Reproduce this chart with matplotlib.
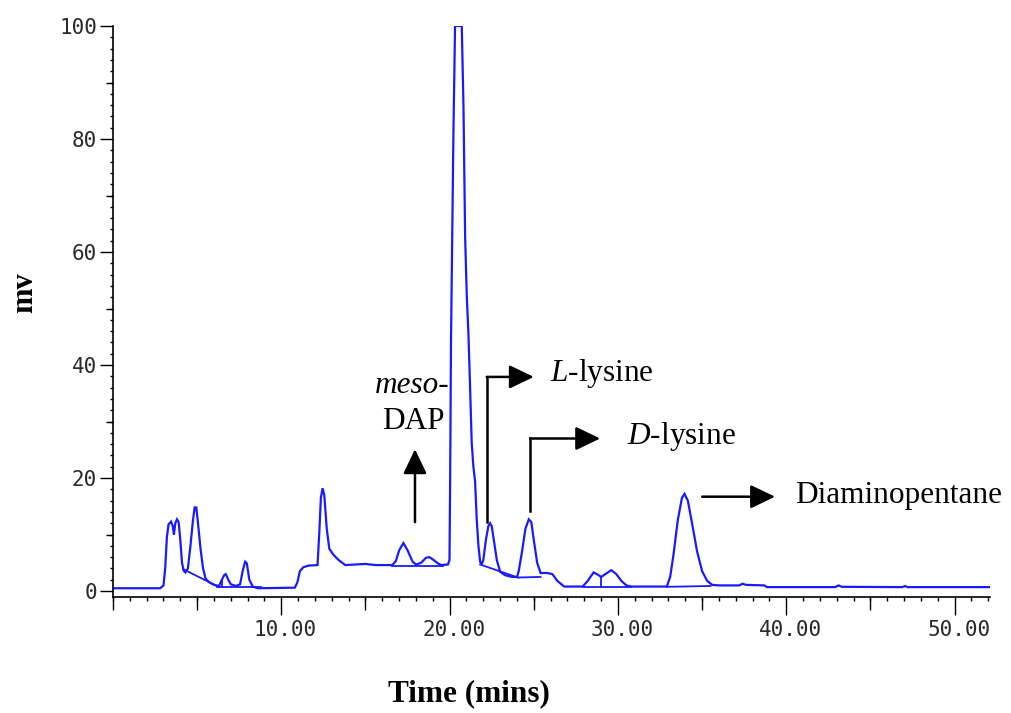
import matplotlib
matplotlib.use("Agg")
import matplotlib.pyplot as plt
import numpy as np
from matplotlib.transforms import ScaledTranslation

# ---- chromatogram trace (time in minutes, detector response in mV) ----
time_min = [
    0.0, 2.8, 3.0, 3.1, 3.2, 3.3, 3.45, 3.55, 3.62, 3.7, 3.8, 3.9, 4.0, 4.1,
    4.2, 4.3, 4.45, 4.6, 4.75, 4.85, 4.95, 5.05, 5.2, 5.35, 5.5, 5.7, 6.0,
    6.3, 6.45, 6.6, 6.7, 6.85, 7.0, 7.3, 7.55, 7.7, 7.85, 7.95, 8.1, 8.3,
    8.6, 10.8, 10.95, 11.1, 11.3, 11.6, 12.15, 12.25, 12.35, 12.45, 12.55,
    12.7, 12.85, 13.1, 13.4, 13.8, 15.0, 15.6, 16.6, 16.8, 17.0, 17.25,
    17.5, 17.8, 18.0, 18.3, 18.6, 18.8, 19.0, 19.3, 19.5, 19.9, 19.99,
    20.03, 20.08, 20.15, 20.22, 20.32, 20.72, 20.82, 20.92, 21.02, 21.11,
    21.21, 21.31, 21.41, 21.51, 21.61, 21.71, 21.81, 21.9, 22.0, 22.15,
    22.3, 22.4, 22.5, 22.65, 22.8, 23.0, 23.3, 23.7, 24.0, 24.1, 24.3,
    24.5, 24.7, 24.85, 25.0, 25.2, 25.4, 25.8, 26.1, 26.4, 26.8, 27.9,
    28.2, 28.55, 28.8, 29.0, 29.3, 29.6, 29.9, 30.2, 30.5, 30.8, 32.9,
    33.1, 33.3, 33.55, 33.8, 33.95, 34.15, 34.4, 34.7, 35.0, 35.3, 35.6,
    36.0, 37.2, 37.4, 37.6, 38.7, 38.85, 42.9, 43.1, 43.3, 46.9, 47.05,
    47.2, 52.1,
]
signal_mv = [
    0.5, 0.5, 1.0, 4.0, 9.5, 11.8, 12.3, 11.5, 10.0, 12.0, 12.7, 12.2, 9.0,
    5.0, 3.6, 3.3, 4.0, 8.0, 12.5, 14.8, 14.8, 12.0, 7.5, 4.0, 2.2, 1.6,
    1.1, 0.9, 1.9, 2.8, 3.0, 2.0, 1.2, 0.9, 1.2, 3.5, 5.2, 4.9, 2.0, 0.8,
    0.5, 0.6, 1.5, 3.5, 4.2, 4.5, 4.6, 10.0, 16.5, 18.2, 17.0, 11.0, 7.5,
    6.4, 5.5, 4.6, 4.8, 4.6, 4.6, 5.3, 7.2, 8.5, 7.2, 5.2, 4.7, 5.0, 5.9,
    6.0, 5.6, 4.9, 4.6, 4.7, 5.5, 20.1, 44.2, 62.0, 80.1, 100.0, 100.0,
    85.9, 62.5, 52.0, 45.9, 36.4, 26.2, 22.0, 19.4, 12.6, 8.0, 5.2, 4.7,
    5.5, 9.0, 11.5, 12.0, 11.5, 8.5, 5.5, 3.4, 2.8, 2.5, 2.5, 3.5, 7.0,
    11.0, 12.7, 12.2, 9.0, 5.0, 3.2, 3.2, 3.0, 1.8, 0.8, 0.8, 1.8, 3.3,
    2.9, 2.5, 3.1, 3.7, 3.0, 1.8, 1.0, 0.8, 0.8, 2.5, 6.5, 12.5, 16.5,
    17.2, 16.0, 12.0, 7.0, 3.5, 1.8, 1.1, 1.0, 1.0, 1.3, 1.1, 1.0, 0.7,
    0.7, 1.0, 0.75, 0.7, 0.9, 0.7, 0.7,
]

# ---- integration baselines and drop lines drawn by the data system ----
baseline_segments = [
    ([4.15, 6.1], [3.9, 1.0]),
    ([6.2, 8.8], [0.7, 0.7]),
    ([6.45, 6.45], [0.7, 2.0]),
    ([16.6, 19.6], [4.5, 4.5]),
    ([21.81, 24.05], [4.7, 2.4]),
    ([24.05, 25.4], [2.4, 2.5]),
    ([27.9, 30.8], [0.8, 0.8]),
    ([29.0, 29.0], [0.8, 2.5]),
    ([32.9, 35.5], [0.75, 0.9]),
]

x_major = [10, 20, 30, 40, 50]
x_major_labels = ["10.00", "20.00", "30.00", "40.00", "50.00"]
y_major = [0, 20, 40, 60, 80, 100]
y_major_labels = ["0", "20", "40", "60", "80", "100"]

plt.rcParams["mathtext.fontset"] = "custom"
plt.rcParams["mathtext.rm"] = "Liberation Serif"
plt.rcParams["mathtext.it"] = "Liberation Serif:italic"

W, H = 1012, 713
fig = plt.figure(figsize=(W / 100, H / 100), dpi=100)
fig.patch.set_facecolor("white")
ax = fig.add_axes([113 / W, 116 / H, 877 / W, 571 / H])

blue = "#1a1aff"
ax.plot(time_min, signal_mv, color=blue, lw=1.6, solid_joinstyle="miter")
for xs, ys in baseline_segments:
    ax.plot(xs, ys, color=blue, lw=1.3)

ax.set_xlim(0, 52.1)
ax.set_ylim(-1.05, 100)

for side in ("top", "right"):
    ax.spines[side].set_visible(False)
for side in ("left", "bottom"):
    ax.spines[side].set_linewidth(1.2)

tick_font = dict(family="DejaVu Sans Mono", size=15, color="#2a2a2a")

ax.set_xticks(x_major, x_major_labels, **tick_font)
ax.set_xticks(np.arange(0, 53, 1), minor=True)
ax.set_yticks(y_major, y_major_labels, **tick_font)
ax.set_yticks(np.arange(0, 101, 2), minor=True)

ax.tick_params(axis="x", which="major", length=13, width=1.0, pad=3.5)
ax.tick_params(axis="x", which="minor", length=3, width=1.0)
ax.tick_params(axis="y", which="major", length=9.5, width=1.0, pad=2)
ax.tick_params(axis="y", which="minor", length=2.5, width=1.0)

shift = ScaledTranslation(4 / 100, 0, fig.dpi_scale_trans)
for lab in ax.get_xticklabels():
    lab.set_transform(lab.get_transform() + shift)

# intermediate-length ticks at the half decades
secx = ax.secondary_xaxis("bottom")
secx.set_xticks([0, 5, 15, 25, 35, 45])
secx.tick_params(length=9, width=1.0, labelbottom=False)
secx.spines["bottom"].set_visible(False)

secy = ax.secondary_yaxis("left")
secy.set_yticks([10, 30, 50, 70, 90])
secy.tick_params(length=5, width=1.0, labelleft=False)
secy.spines["left"].set_visible(False)

# axis titles
serif = "Liberation Serif"
fig.text(25 / W, 1 - 293 / H, "mv", rotation=90, family=serif,
         fontweight="bold", size=22, ha="center", va="center")
fig.text(469 / W, 1 - 694 / H, "Time (mins)", family=serif,
         fontweight="bold", size=22.5, ha="center", va="center")

# peak identification
arrow_kw = dict(arrowstyle="-|>,head_length=0.75,head_width=0.36",
                mutation_scale=20, lw=1.8, color="black",
                shrinkA=0, shrinkB=0)
line_kw = dict(color="black", lw=1.8, solid_capstyle="projecting")
label_kw = dict(family=serif, size=22.5, va="baseline")

# meso-DAP: vertical arrow
ax.annotate("", xy=(17.94, 25.1), xytext=(17.94, 12.2), arrowprops=arrow_kw)
ax.text(17.75, 35.0, "meso-", style="italic", ha="center", **label_kw)
ax.text(17.83, 28.7, "DAP", ha="center", **label_kw)

# L-lysine: bent arrow
ax.plot([22.2, 22.2], [12.3, 37.9], **line_kw)
ax.annotate("", xy=(25.0, 37.9), xytext=(22.2, 37.9), arrowprops=arrow_kw)
ax.text(25.97, 37.2, r"$\mathit{L}$-lysine", ha="left", **label_kw)

# D-lysine: bent arrow
ax.plot([24.78, 24.78], [14.2, 27.0], **line_kw)
ax.annotate("", xy=(28.94, 27.0), xytext=(24.78, 27.0), arrowprops=arrow_kw)
ax.text(30.54, 26.0, r"$\mathit{D}$-lysine", ha="left", **label_kw)

# Diaminopentane: horizontal arrow
ax.annotate("", xy=(39.33, 16.7), xytext=(35.0, 16.7), arrowprops=arrow_kw)
ax.text(40.52, 15.6, "Diaminopentane", ha="left", **label_kw)

fig.savefig("out.png", dpi=100, facecolor="white")
